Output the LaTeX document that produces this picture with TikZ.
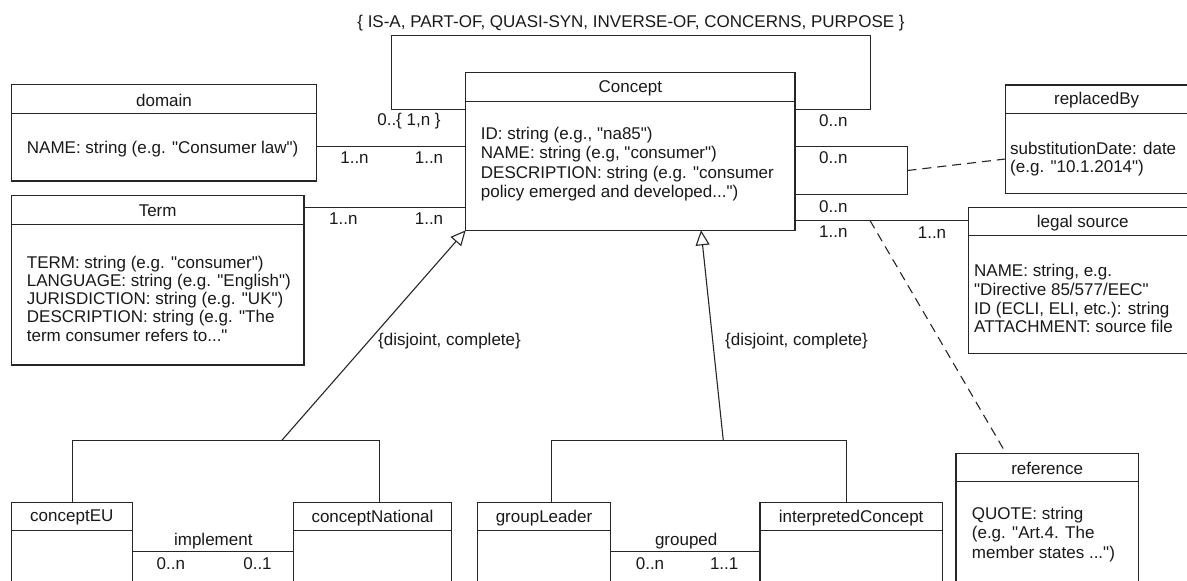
\documentclass[tikz,border=0pt]{standalone}
\usepackage{fontspec}
\setmainfont{Liberation Sans}[Ligatures=TeXOff]
\usetikzlibrary{arrows.meta,calc}
\begin{document}
\begin{tikzpicture}[x=1pt,y=-1pt,
  ln/.style={line width=1.1pt, draw=black!85},
  classbox/.style={ln, rectangle, inner sep=0pt, outer sep=0pt, anchor=north west, fill=white},
  txt/.style={inner sep=0pt, font=\fontsize{17pt}{18.5pt}\selectfont, text=black!90},
  attr/.style={txt, align=left, anchor=west},
  dashedln/.style={ln, dash pattern=on 9pt off 6pt},
  gen/.style={ln, -{Triangle[length=15pt, width=14pt, fill=white]}}]
\useasboundingbox (0,0) rectangle (1187,581);
\clip (0,0) rectangle (1187,581);

% ---------- classes ----------
\node[classbox, minimum width=329.3pt, minimum height=157.6pt] (concept) at (465.7,72.7) {};
\node[classbox, minimum width=305.4pt, minimum height=96.3pt] (domain) at (11.3,84.7) {};
\node[classbox, minimum width=292.7pt, minimum height=169.3pt] (term) at (11.3,195.7) {};
\node[classbox, minimum width=182.7pt, minimum height=108.3pt] (replaced) at (1005.3,85) {};
\node[classbox, minimum width=228.7pt, minimum height=146pt] (legal) at (968.3,207.3) {};
\node[classbox, minimum width=182.3pt, minimum height=146.7pt] (reference) at (956,453.3) {};
\node[classbox, minimum width=121pt, minimum height=100pt] (ceu) at (11.3,502.3) {};
\node[classbox, minimum width=158.4pt, minimum height=100pt] (cnat) at (293.3,502.3) {};
\node[classbox, minimum width=133.4pt, minimum height=100pt] (gleader) at (477.3,502.3) {};
\node[classbox, minimum width=182.3pt, minimum height=100pt] (icon) at (760,502.3) {};

% header separators and titles
\foreach \c/\t in {concept/Concept, domain/domain, term/Term, replaced/replacedBy, legal/legal source, reference/reference, ceu/conceptEU, cnat/conceptNational, gleader/groupLeader, icon/interpretedConcept}{
  \draw[ln] ([yshift=-28.5pt]\c.north west) -- ([yshift=-28.5pt]\c.north east);
  \node[txt] (\c-title) at ([yshift=-15.5pt]\c.north) {\t};
}

% attributes
\node[attr, font=\fontsize{17pt}{19.4pt}\selectfont] (concept-attr) at (480.7,164) {ID: string (e.g., "na85")\\NAME: string (e.g, "consumer")\\DESCRIPTION: string (e.g. "consumer\\policy emerged and developed...")};
\node[attr] (domain-attr) at (26.7,149) {NAME: string (e.g. "Consumer law")};
\node[attr, font=\fontsize{17pt}{18.1pt}\selectfont] (term-attr) at (26.7,298.8) {TERM: string (e.g. "consumer")\\LANGUAGE: string (e.g. "English")\\JURISDICTION: string (e.g. "UK")\\DESCRIPTION: string (e.g. "The\\term consumer refers to..."};
\node[attr] (replaced-attr) at (1010,159) {substitutionDate: date\\(e.g. "10.1.2014")};
\node[attr, font=\fontsize{17pt}{18.7pt}\selectfont] (legal-attr) at (974,298.7) {NAME: string, e.g.\\"Directive 85/577/EEC"\\ID (ECLI, ELI, etc.): string\\ATTACHMENT: source file};
\node[attr, font=\fontsize{17pt}{19.5pt}\selectfont] (reference-attr) at (971.7,534.5) {QUOTE: string\\(e.g. "Art.4. The\\member states ...")};

% ---------- connectors ----------
% self association of Concept
\coordinate (loopL) at (391.5,35.5);
\coordinate (loopR) at (870.5,35.5);
\coordinate (loopY) at (0,109.5);
\draw[ln] (concept.west |- loopY) -| (loopL) -- (loopR) |- (concept.east |- loopY);
\node[txt] (loop-label) at (631,23) {\{ IS-A, PART-OF, QUASI-SYN, INVERSE-OF, CONCERNS, PURPOSE \}};
\node[txt] (loop-m1) at (409,120.7) {0..\{ 1,n \}};
\node[txt] (loop-m2) at (833.3,120.7) {0..n};

% domain -- concept
\coordinate (domY) at (0,146.5);
\draw[ln] (domain.east |- domY) -- (concept.west |- domY);
\node[txt] (dom-m1) at (354.5,157.7) {1..n};
\node[txt] (dom-m2) at (429,157.7) {1..n};

% term -- concept
\coordinate (termY) at (0,207.5);
\draw[ln] (term.east |- termY) -- (concept.west |- termY);
\node[txt] (term-m1) at (343.4,219) {1..n};
\node[txt] (term-m2) at (429,219) {1..n};

% replacedBy (reflexive association with association class)
\coordinate (repTop) at (0,146.5);
\coordinate (repBot) at (0,194.5);
\coordinate (repCorner) at (907.5,194.5);
\coordinate (repMid) at (907.5,170.5);
\draw[ln] (concept.east |- repTop) -| (repCorner) -- (concept.east |- repBot);
\node[txt] (rep-m1) at (833.3,157.7) {0..n};
\node[txt] (rep-m2) at (833.3,206.7) {0..n};
\draw[dashedln] (repMid) -- (replaced.west |- 0,159);

% legal source
\coordinate (legY) at (0,220.5);
\draw[ln] (concept.east |- legY) -- (legal.west |- legY);
\node[txt] (leg-m1) at (833.3,231.7) {1..n};
\node[txt] (leg-m2) at (932,233) {1..n};
\coordinate (refStart) at (870,220.5);
\draw[dashedln] (refStart) -- ($(reference.north west)!0.274!(reference.north east)$);

% generalization 1
\coordinate (brL1) at (72.5,440.5);
\coordinate (brR1) at (379.5,440.5);
\coordinate (gen1) at (281.7,440.5);
\draw[ln] (ceu.north -| brL1) -- (brL1) -- (brR1) -- (cnat.north -| brR1);
\draw[gen] (gen1) -- (concept.south west);
\node[txt] (gen1-label) at (449.5,341) {\{disjoint, complete\}};

% generalization 2
\coordinate (brL2) at (551.5,440.5);
\coordinate (brR2) at (846.5,440.5);
\coordinate (gen2) at (723.3,440.5);
\draw[ln] (gleader.north -| brL2) -- (brL2) -- (brR2) -- (icon.north -| brR2);
\draw[gen] (gen2) -- ($(concept.south west)!0.7146!(concept.south east)$);
\node[txt] (gen2-label) at (796.5,341) {\{disjoint, complete\}};

% implement
\coordinate (impY) at (0,551.5);
\draw[ln] (ceu.east |- impY) -- (cnat.west |- impY);
\node[txt] (imp-label) at (213.3,540.7) {implement};
\node[txt] (imp-m1) at (170.8,563.3) {0..n};
\node[txt] (imp-m2) at (257.5,563.3) {0..1};

% grouped
\draw[ln] (gleader.east |- impY) -- (icon.west |- impY);
\node[txt] (grp-label) at (686.2,540.7) {grouped};
\node[txt] (grp-m1) at (650,563.3) {0..n};
\node[txt] (grp-m2) at (724.2,563.3) {1..1};
\end{tikzpicture}
\end{document}
